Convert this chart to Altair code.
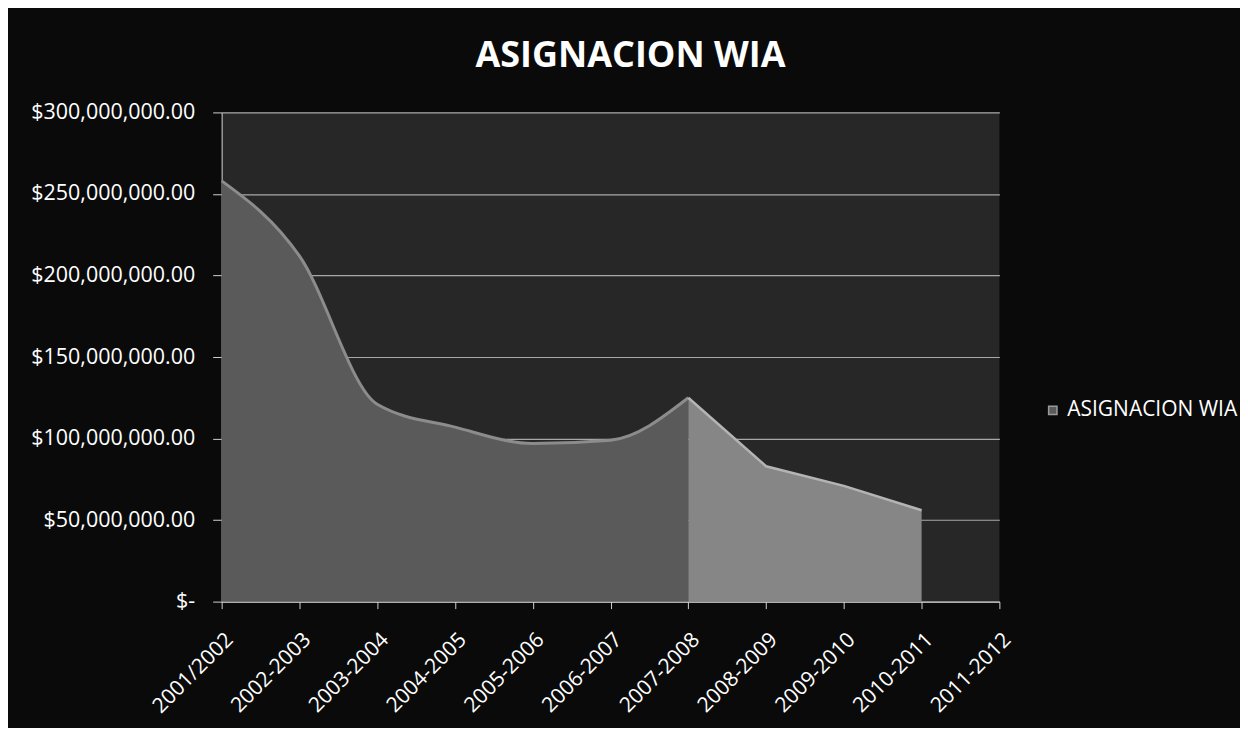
import altair as alt
import pandas as pd

periodos = ["2001/2002", "2002-2003", "2003-2004", "2004-2005", "2005-2006",
            "2006-2007", "2007-2008", "2008-2009", "2009-2010", "2010-2011", "2011-2012"]
asignacion = [258e6, 212e6, 121e6, 107e6, 97e6, 99e6, 125e6, 83e6, 71e6, 56e6, None]
serie = "ASIGNACION WIA"
y_ticks = [0, 50e6, 100e6, 150e6, 200e6, 250e6, 300e6]

df = pd.DataFrame({
    "periodo": periodos,
    "valor": asignacion,
    "orden": list(range(len(periodos))),
    "serie": [serie] * len(periodos),
})

FONT = "Open Sans"

x_enc = alt.X(
    "periodo:N", sort=periodos, title=None,
    scale=alt.Scale(type="point", padding=0, domain=periodos),
    axis=alt.Axis(labelAngle=-45, labelColor="white", labelFontSize=21, labelFont=FONT,
                  labelPadding=20, tickSize=7, tickColor="#d0d0d0", domainColor="#d0d0d0",
                  grid=False, labelOverlap=False),
)
y_enc = alt.Y(
    "valor:Q", title=None,
    scale=alt.Scale(domain=[0, 300e6], nice=False),
    axis=alt.Axis(values=y_ticks,
                  labelExpr="datum.value == 0 ? '$-' : format(datum.value, '$,.2f')",
                  labelColor="white", labelFontSize=21.5, labelFont=FONT, labelPadding=18,
                  tickSize=9, tickColor="#d0d0d0", domainColor="#d0d0d0",
                  grid=True, gridColor="#a8a8a8", gridWidth=1.2,
                  minExtent=200, maxExtent=200),
)

base = alt.Chart(df)

area1 = base.transform_filter("datum.orden <= 6").mark_area(interpolate="monotone", opacity=1).encode(
    x=x_enc, y=y_enc,
    color=alt.Color("serie:N", scale=alt.Scale(range=["#5a5a5a"]),
                    legend=alt.Legend(title=None, orient="none", legendX=822, legendY=288,
                                      symbolType="square", symbolSize=70, labelLimit=400,
                                      symbolFillColor="#9a9a9a", symbolStrokeColor="#9a9a9a",
                                      labelColor="white", labelFontSize=21, labelFont=FONT)),
)
ridge1 = base.transform_filter("datum.orden <= 6").mark_line(
    interpolate="monotone", color="#8c8c8c", strokeWidth=3).encode(x=x_enc, y=y_enc)

area2 = base.transform_filter("datum.orden >= 6 && isValid(datum.valor)").mark_area(
    color="#868686", opacity=1).encode(x=x_enc, y=y_enc)
ridge2 = base.transform_filter("datum.orden >= 6 && isValid(datum.valor)").mark_line(
    color="#b4b4b4", strokeWidth=2.5).encode(x=x_enc, y=y_enc)

chart = alt.layer(area1, ridge1, area2, ridge2).properties(
    width=779, height=490,
    title=alt.TitleParams(serie, fontSize=36, fontWeight="bold", color="white", font=FONT,
                          anchor="middle", offset=26, dx=20),
    padding={"left": 14, "top": 30, "right": 2, "bottom": 10},
    background="#0a0a0a",
).configure_view(stroke=None, fill="#272727")

chart.save("out.html", embed_options={"renderer": "svg", "actions": False})
